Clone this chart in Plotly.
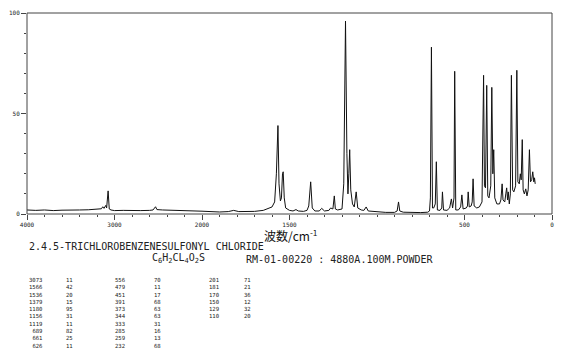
import plotly.graph_objects as go

# ---- spectrum (wavenumber cm-1, relative intensity) ----
WAVENUMBER = [4000, 3900, 3800, 3700, 3600, 3500, 3400, 3300, 3200, 3150, 3134, 3120, 3099, 3090,
              3073, 3060, 3040, 3000, 2900, 2800, 2700, 2600, 2560, 2531, 2515, 2450, 2400, 2300,
              2200, 2100, 2000,
              1950, 1900, 1850, 1819, 1790, 1750, 1700, 1650, 1620, 1600, 1585, 1575, 1566, 1560,
              1552, 1546, 1540, 1536, 1530, 1522, 1500, 1480, 1463, 1450, 1420, 1400, 1390, 1379,
              1370, 1355, 1330, 1316, 1300, 1275, 1265, 1252, 1244, 1238, 1225, 1200, 1190, 1180,
              1172, 1166, 1161, 1156, 1150, 1140, 1130, 1119, 1110, 1090, 1075, 1062, 1050, 1000,
              950, 900, 885, 877, 870, 850, 800, 750, 710, 700, 695, 689, 683, 676, 667, 661, 655,
              640, 630, 626, 620, 600, 585, 575, 568, 560, 556, 550, 535, 522, 515, 508, 490, 483,
              479, 473, 462, 456, 451, 445, 430, 415, 400, 391, 386, 380, 373, 367, 360, 350, 344,
              338, 333, 327, 315, 300, 292, 285, 280, 270, 264, 259, 254, 250, 244, 238, 232, 225,
              218, 208, 201, 195, 187, 181, 176, 170, 165, 158, 150, 143, 136, 129, 123, 116, 110,
              104, 100, 96]
INTENSITY = [2.0, 1.8, 2.0, 1.7, 1.9, 1.8, 2.0, 2.1, 2.3, 2.6, 3.6, 2.8, 4.3, 3.0,
             11.5, 2.5, 2.0, 1.7, 1.8, 1.6, 1.7, 1.8, 2.0, 3.6, 2.2, 2.0, 1.9, 1.8,
             1.7, 1.6, 1.4,
             1.2, 1.0, 1.2, 1.8, 1.2, 1.1, 1.3, 1.8, 2.6, 3.5, 6.0, 20.0, 44.0, 15.0,
             6.5, 8.0, 20.0, 21.0, 8.0, 3.0, 1.8, 1.5, 2.2, 1.5, 1.3, 1.8, 4.0, 16.0,
             3.0, 1.5, 1.5, 2.8, 1.5, 1.8, 3.0, 2.5, 9.0, 2.5, 2.0, 2.5, 15.0, 96.0,
             30.0, 10.0, 20.0, 32.0, 12.0, 5.0, 3.5, 11.0, 3.0, 2.0, 1.8, 3.5, 1.5, 1.0,
             0.8, 0.8, 1.5, 6.0, 1.5, 0.9, 0.7, 0.7, 0.9, 1.5, 8.0, 83.0, 3.0, 3.0, 5.0, 26.0, 2.0,
             1.8, 3.0, 11.0, 2.0, 1.8, 3.0, 7.5, 3.0, 8.0, 71.0, 2.0, 2.0, 3.5, 9.5, 2.5, 3.0, 4.0,
             11.0, 3.5, 4.0, 6.0, 17.5, 4.0, 3.0, 3.5, 6.0, 69.0, 14.0, 13.0, 64.0, 9.0, 8.0, 14.0, 63.0,
             20.0, 32.0, 8.0, 5.0, 5.0, 7.0, 15.0, 7.0, 6.0, 10.0, 13.0, 7.0, 11.0, 5.0, 10.0, 69.0, 12.0,
             11.0, 14.0, 71.5, 16.0, 15.0, 20.0, 17.0, 37.0, 12.0, 10.0, 12.5, 9.0, 12.0, 32.0, 16.0, 17.0, 21.0,
             16.0, 18.0, 15.0]

# ---- peak table ----
PEAK_POS_1 = ["3073", "1566", "1536", "1379", "1180", "1156", "1119", "689", "661", "626"]
PEAK_INT_1 = ["11", "42", "20", "15", "95", "31", "11", "82", "25", "11"]
PEAK_POS_2 = ["556", "479", "451", "391", "373", "344", "333", "285", "259", "232"]
PEAK_INT_2 = ["70", "11", "17", "68", "63", "63", "31", "16", "13", "68"]
PEAK_POS_3 = ["201", "181", "170", "150", "129", "110"]
PEAK_INT_3 = ["71", "21", "36", "12", "32", "20"]

HI_TICKS = [4000, 3000]
LO_TICKS = [2000, 1500, 500, 0]

TITLE = "2.4.5-TRICHLOROBENZENESULFONYL CHLORIDE"
FORMULA = "C<sub>6</sub>H<sub>2</sub>CL<sub>4</sub>O<sub>2</sub>S"
INFO = "RM-01-00220 : 4880A.100M.POWDER"
XLABEL = "波数/cm<sup>-1</sup>"

W, H = 570, 354
L, R, T, B = 21, 18, 9, 140
PW, PH = W - L - R, H - T - B


def px(x):
    return (x - L) / PW


def py(y):
    return (H - B - y) / PH


hi_x = [x for x in WAVENUMBER if x >= 2000]
hi_y = [y for x, y in zip(WAVENUMBER, INTENSITY) if x >= 2000]
lo_x = [x for x in WAVENUMBER if x <= 2000]
lo_y = [y for x, y in zip(WAVENUMBER, INTENSITY) if x <= 2000]

line = dict(color="#111111", width=1)
fig = go.Figure()
fig.add_trace(go.Scatter(x=hi_x, y=hi_y, mode="lines", line=line, xaxis="x", yaxis="y",
                         showlegend=False, hoverinfo="skip"))
fig.add_trace(go.Scatter(x=lo_x, y=lo_y, mode="lines", line=line, xaxis="x2", yaxis="y",
                         showlegend=False, hoverinfo="skip"))

tickfont = dict(family="DejaVu Sans Mono", size=6, color="#222")
axcommon = dict(showgrid=False, zeroline=False, showline=False, ticks="outside",
                ticklen=5, tickcolor="#444", tickwidth=1, tickfont=tickfont, autorange=False)
fig.update_layout(
    width=W, height=H, margin=dict(l=L, r=R, t=T, b=B),
    paper_bgcolor="white", plot_bgcolor="white",
    xaxis=dict(domain=[0, 1 / 3], range=[4000, 2000], anchor="y",
               tickmode="array", tickvals=HI_TICKS, ticktext=[str(v) for v in HI_TICKS],
               minor=dict(dtick=200, tick0=0, ticklen=2, tickcolor="#444", ticks="outside"),
               **axcommon),
    xaxis2=dict(domain=[1 / 3, 1], range=[2000, 0], anchor="y",
                tickmode="array", tickvals=LO_TICKS, ticktext=[str(v) for v in LO_TICKS],
                minor=dict(dtick=100, tick0=0, ticklen=2, tickcolor="#444", ticks="outside"),
                **axcommon),
    yaxis=dict(range=[0, 100], anchor="x", tickmode="array", tickvals=[0, 50, 100],
               ticktext=["0", "50", "100"],
               minor=dict(dtick=10, tick0=0, ticklen=2, tickcolor="#444", ticks="outside"),
               **axcommon),
    shapes=[dict(type="rect", xref="paper", yref="paper", x0=0, x1=1, y0=0, y1=1,
                 line=dict(color="#444", width=1), layer="above")],
)

mono = "DejaVu Sans Mono"
ann = []
ann.append(dict(text=XLABEL, x=px(288), y=py(235), xanchor="center", yanchor="middle",
                font=dict(family="Noto Sans CJK JP", size=12, color="#111")))
ann.append(dict(text=TITLE, x=px(21), y=py(247), xanchor="left", yanchor="middle",
                font=dict(family=mono, size=10, color="#222")))
ann.append(dict(text=FORMULA, x=px(145), y=py(259), xanchor="left", yanchor="middle",
                font=dict(family=mono, size=10, color="#222")))
ann.append(dict(text=INFO, x=px(240), y=py(260), xanchor="left", yanchor="middle",
                font=dict(family=mono, size=10, color="#222")))

tfont = dict(family=mono, size=5.6, color="#222")
row_top = 276.3
for pos, inten, xr, xl in [(PEAK_POS_1, PEAK_INT_1, 38, 58),
                           (PEAK_POS_2, PEAK_INT_2, 123, 147),
                           (PEAK_POS_3, PEAK_INT_3, 217, 238)]:
    ann.append(dict(text="<br>".join(pos), x=px(xr), y=py(row_top), xanchor="right",
                    yanchor="top", align="right", font=tfont))
    ann.append(dict(text="<br>".join(inten), x=px(xl), y=py(row_top), xanchor="left",
                    yanchor="top", align="left", font=tfont))

for a in ann:
    a.update(xref="paper", yref="paper", showarrow=False)
fig.update_layout(annotations=ann)

fig.write_html("out.html")
